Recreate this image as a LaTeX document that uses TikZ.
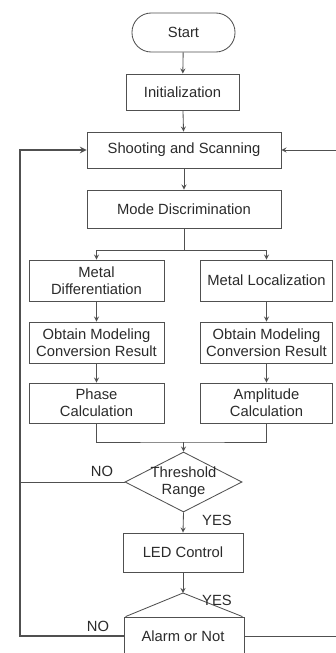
\documentclass[tikz,border=0pt]{standalone}
\usepackage{fontspec}
\setmainfont{Liberation Sans}
\usepackage{tikz}
\definecolor{trait}{HTML}{505050}
\definecolor{encre}{HTML}{2A2A2A}
\usetikzlibrary{shapes,calc}

\tikzset{
  boite/.style={rectangle, draw=trait, line width=0.6pt, inner sep=0pt},
  losange/.style={diamond, draw=trait, line width=0.6pt, inner sep=0pt, aspect=1.95},
  mot/.style={text=encre, align=center, font=\fontsize{10.5}{12}\selectfont},
  fleche/.style={->, >=stealth, draw=trait, line width=0.6pt},
  ligne/.style={draw=trait, line width=0.6pt}
}

\begin{document}
\begin{tikzpicture}[x=0.025cm,y=-0.025cm]
  \useasboundingbox (0,0) rectangle (336,653);

  \node[boite, rounded corners=0.48cm,
    minimum width=2.575cm, minimum height=0.975cm] at (183.5,32.5) (debut) {};
  \node[mot] at (debut.center) {Start};

  \node[boite, minimum width=2.825cm, minimum height=0.9cm] at (182.5,92) (init) {};
  \node[mot] at (init.center) {Initialization};

  \node[boite, minimum width=4.85cm, minimum height=0.9cm] at (184,150) (scan) {};
  \node[mot] at (scan.center) {Shooting and Scanning};

  \node[boite, minimum width=4.85cm, minimum height=0.95cm] at (184,209) (mode) {};
  \node[mot] at (mode.center) {Mode Discrimination};

  % branche gauche
  \node[boite, minimum width=3.375cm, minimum height=1.025cm] at (96.5,280.5) (diff) {};
  \node[mot] at (diff.center) {Metal\\Differentiation};

  \node[boite, minimum width=3.375cm, minimum height=1.025cm] at (96.5,342.5) (obtg) {};
  \node[mot] at (obtg.center) {Obtain Modeling\\Conversion Result};

  \node[boite, minimum width=3.375cm, minimum height=1cm] at (96.5,403) (phase) {};
  \node[mot] at (phase.center) {Phase\\Calculation};

  % branche droite
  \node[boite, minimum width=3.3cm, minimum height=1.025cm] at (266.5,280.5) (loc) {};
  \node[mot] at (loc.center) {Metal Localization};

  \node[boite, minimum width=3.3cm, minimum height=1.025cm] at (266.5,342.5) (obtd) {};
  \node[mot] at (obtd.center) {Obtain Modeling\\Conversion Result};

  \node[boite, minimum width=3.3cm, minimum height=1cm] at (266.5,403) (ampl) {};
  \node[mot] at (ampl.center) {Amplitude\\Calculation};

  \node[losange, minimum width=2.925cm, minimum height=1.5cm] at (183.5,482) (seuil) {};
  \node[mot] at (seuil.center) {Threshold\\Range};

  \node[boite, minimum width=3cm, minimum height=0.975cm] at (183,552.5) (led) {};
  \node[mot] at (led.center) {LED Control};

  \node[boite, minimum width=3cm, minimum height=0.95cm] at (184,636) (alarme) {};
  \node[mot] at (183,636) {Alarm or Not};
  \coordinate (sommet) at (183,593);
  \draw[ligne] ($(alarme.north west)+(2,0)$) -- (sommet) -- ($(alarme.north east)+(-2,0)$);

  \coordinate (fourche) at (184,250);
  \coordinate (jonction) at (183.5,442);

  \draw[fleche] (debut) -- (init);
  \draw[fleche] (init) -- (scan);
  \draw[fleche] (scan) -- (mode);
  \draw[ligne] (mode.south) -- (fourche);
  \draw[fleche] (fourche) -| (diff.north);
  \draw[fleche] (fourche) -| (loc.north);
  \draw[fleche] (diff) -- (obtg);
  \draw[fleche] (obtg) -- (phase);
  \draw[fleche] (loc) -- (obtd);
  \draw[fleche] (obtd) -- (ampl);
  \draw[ligne] (phase.south) |- (jonction) -| (ampl.south);
  \draw[fleche] (jonction) -- (seuil.north);
  \draw[fleche] (seuil.south) -- (led.north);
  \draw[fleche] (led.south) -- (sommet);

  % retours
  \draw[ligne] (seuil.west) -- (20,482);
  \draw[fleche, line width=1.1pt] (alarme.west) -- (20,636) |- (scan.west);
  \draw[fleche] (alarme.east) -- (345,636) |- (scan.east);

  \node[mot] at (102,471) {NO};
  \node[mot] at (98,626) {NO};
  \node[mot] at (217,520) {YES};
  \node[mot] at (217,600) {YES};

\end{tikzpicture}
\end{document}
